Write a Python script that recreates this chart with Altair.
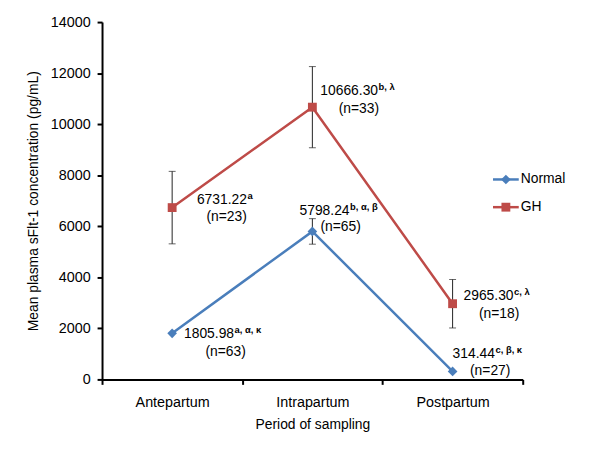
import altair as alt
import pandas as pd

periods = ["Antepartum", "Intrapartum", "Postpartum"]
series = ["Normal", "GH"]
normal_mean = [1805.98, 5798.24, 314.44]
gh_mean = [6731.22, 10666.30, 2965.30]
normal_err = [0, 500, 0]
gh_err = [1420, 1590, 950]
normal_sup = ["a, α, κ", "b, α, β", "c, β, κ"]
gh_sup = ["a", "b, λ", "c, λ"]
normal_n = [63, 65, 27]
gh_n = [23, 33, 18]
y_ticks = [0, 2000, 4000, 6000, 8000, 10000, 12000, 14000]

colors = {"Normal": "#4A7EBB", "GH": "#BE4B48"}
shapes = {"Normal": "diamond", "GH": "square"}
sizes = {"Normal": 95, "GH": 80}

rows = []
for s, means, errs, sups, ns in [("Normal", normal_mean, normal_err, normal_sup, normal_n),
                                 ("GH", gh_mean, gh_err, gh_sup, gh_n)]:
    for p, m, e, sp, n in zip(periods, means, errs, sups, ns):
        rows.append({"series": s, "period": p, "mean": m, "err": e,
                     "lo": m - e, "hi": m + e,
                     "main": f"{m:.2f}", "sup": sp, "ntxt": f"(n={n})"})
df = pd.DataFrame(rows)

W, H = 425, 361
FONT = "Liberation Sans"
axis_style = dict(domainColor="black", domainWidth=2, tickColor="black", tickWidth=2, tickSize=5,
                  labelFont=FONT, labelFontSize=14.5, labelColor="black",
                  titleFont=FONT, titleFontSize=14, titleFontWeight="normal", titleColor="black")

xenc = alt.X("period:N", scale=alt.Scale(type="band", domain=periods, paddingInner=0, paddingOuter=0),
             axis=alt.Axis(title="Period of sampling", tickBand="extent", labelAngle=0,
                           labelPadding=11, titlePadding=9, **axis_style))
yenc = alt.Y("mean:Q", scale=alt.Scale(domain=[0, 14000], nice=False),
             axis=alt.Axis(title="Mean plasma sFlt-1 concentration (pg/mL)", values=y_ticks,
                           format="d", labelPadding=7, titlePadding=10, grid=False, **axis_style))

base = alt.Chart(df)
layers = []
# lines
for s in series:
    layers.append(base.transform_filter(alt.datum.series == s).mark_line(
        color=colors[s], strokeWidth=2.5).encode(x=xenc, y=yenc))
# error bars
eb = base.transform_filter(alt.datum.err > 0)
layers.append(eb.mark_rule(color="#222", strokeWidth=1).encode(
    x=alt.X("period:N"), y=alt.Y("lo:Q"), y2="hi:Q"))
layers.append(eb.mark_tick(color="#222", thickness=1, size=7).encode(
    x=alt.X("period:N"), y=alt.Y("lo:Q")))
layers.append(eb.mark_tick(color="#222", thickness=1, size=7).encode(
    x=alt.X("period:N"), y=alt.Y("hi:Q")))
# points
for s in series:
    layers.append(base.transform_filter(alt.datum.series == s).mark_point(
        shape=shapes[s], filled=True, opacity=1, color=colors[s], size=sizes[s]).encode(
        x=alt.X("period:N"), y=alt.Y("mean:Q")))

# annotation offsets (style): main text (dx, dy), n text (dx, dy)
offsets = {
    ("GH", "Antepartum"): (25, -8, 55, 10),
    ("GH", "Intrapartum"): (8, -16, 47, 2),
    ("GH", "Postpartum"): (11, -7.5, 47, 10.5),
    ("Normal", "Antepartum"): (12, 1, 54, 19),
    ("Normal", "Intrapartum"): (-13, -21, 28.5, -4.5),
    ("Normal", "Postpartum"): (0, -18, 38, 0),
}
FS = 14
SUP = 9.5
for (s, p), (mdx, mdy, ndx, ndy) in offsets.items():
    sub = base.transform_filter((alt.datum.series == s) & (alt.datum.period == p))
    r = df[(df.series == s) & (df.period == p)].iloc[0]
    wmain = sum(0.278 if c == "." else 0.556 for c in r["main"]) * FS
    layers.append(sub.mark_text(align="left", baseline="middle", dx=mdx, dy=mdy,
                                font=FONT, fontSize=FS, color="black").encode(
        x=alt.X("period:N"), y=alt.Y("mean:Q"), text="main:N"))
    layers.append(sub.mark_text(align="left", baseline="middle", dx=mdx + wmain + 0.5, dy=mdy - 4,
                                font=FONT, fontSize=SUP, fontWeight="bold", color="black").encode(
        x=alt.X("period:N"), y=alt.Y("mean:Q"), text="sup:N"))
    layers.append(sub.mark_text(align="center", baseline="middle", dx=ndx, dy=ndy,
                                font=FONT, fontSize=FS, color="black").encode(
        x=alt.X("period:N"), y=alt.Y("mean:Q"), text="ntxt:N"))

# manual legend
leg = pd.DataFrame({"series": series})
for i, s in enumerate(series):
    ly = 159 + i * 28
    ld = alt.Chart(leg).transform_filter(alt.datum.series == s)
    layers.append(ld.mark_rule(color=colors[s], strokeWidth=2.5).encode(
        x=alt.value(395), x2=alt.value(421), y=alt.value(ly)))
    layers.append(ld.mark_point(shape=shapes[s], filled=True, opacity=1, color=colors[s],
                                size=sizes[s]).encode(x=alt.value(408), y=alt.value(ly)))
    layers.append(ld.mark_text(align="left", baseline="middle", font=FONT, fontSize=FS,
                               color="black").encode(x=alt.value(423), y=alt.value(ly), text="series:N"))

chart = alt.layer(*layers).properties(
    width=W, height=H,
    background="white",
    autosize=alt.AutoSizeParams(type="none"),
    padding={"left": 95, "top": 12, "right": 70, "bottom": 60},
).configure_view(stroke=None).configure_axis(**axis_style)

chart.save("out.html", embed_options={"renderer": "svg", "actions": False})
